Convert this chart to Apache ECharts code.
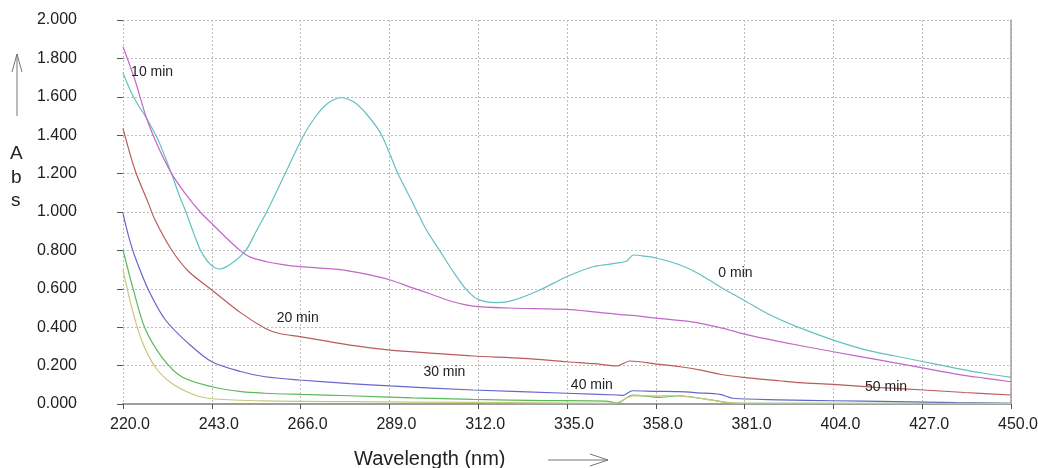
<!DOCTYPE html>
<html>
<head>
<meta charset="utf-8">
<title>Abs spectra</title>
<script src="https://cdn.jsdelivr.net/npm/echarts@6/dist/echarts.min.js"></script>
<style>
  html, body { margin: 0; padding: 0; background: #fff; }
  #chart { width: 1038px; height: 468px; }
</style>
</head>
<body>
<div id="chart"></div>
<script>
// wavelength (nm) / absorbance pairs, one array per time
const min0 = [
  [220, 1.726], [221, 1.675], [222.2, 1.62], [224, 1.555], [226.1, 1.488], [229.1, 1.375],
  [232.6, 1.198], [234.5, 1.09], [236.3, 1.0], [238.3, 0.89], [240.1, 0.80], [242.5, 0.73],
  [245, 0.703], [248, 0.73], [251.8, 0.80], [254.5, 0.90], [257.2, 1.0], [262, 1.2],
  [266.8, 1.4], [270, 1.50], [273, 1.565], [276.5, 1.595], [280, 1.57], [283.5, 1.50],
  [287, 1.40], [291.2, 1.20], [295, 1.05], [298.6, 0.906], [302, 0.80], [305.5, 0.69],
  [309, 0.594], [312, 0.545], [316.8, 0.528], [321, 0.54], [328, 0.594], [334.9, 0.663],
  [341.8, 0.715], [348.7, 0.736], [350.5, 0.745], [352.2, 0.776], [355, 0.77], [358.2, 0.759],
  [364.3, 0.724], [369, 0.68], [374.6, 0.611], [380.7, 0.542], [387, 0.47], [394.5, 0.403],
  [404, 0.333], [412.6, 0.281], [420, 0.25], [426.4, 0.224], [435.9, 0.186], [443, 0.16],
  [450, 0.139]
];
const min10 = [
  [220, 1.861], [223.1, 1.6875], [226.1, 1.488], [229.1, 1.34], [232.6, 1.2], [236, 1.10],
  [240, 1.0], [243, 0.94], [246.5, 0.87], [250.3, 0.80], [253, 0.765], [257.2, 0.741],
  [261, 0.727], [265.8, 0.715], [276.2, 0.70], [282, 0.68], [289.2, 0.646], [295, 0.605],
  [300.4, 0.568], [305, 0.535], [310.7, 0.510], [320, 0.50], [334.9, 0.493], [342, 0.48],
  [349.6, 0.464], [352, 0.462], [358, 0.447], [366.9, 0.429], [375.5, 0.394], [380.7, 0.365],
  [390, 0.325], [404, 0.272], [415, 0.232], [426.4, 0.191], [435.9, 0.156], [443, 0.135],
  [450, 0.116]
];
const min20 = [
  [220, 1.436], [223.1, 1.219], [226.6, 1.045], [228.3, 0.958], [232.6, 0.802], [237, 0.69],
  [243, 0.594], [250.7, 0.472], [256.8, 0.395], [260.5, 0.367], [265.8, 0.351], [272, 0.33],
  [278.8, 0.307], [289.2, 0.281], [300, 0.265], [310.7, 0.25], [323.7, 0.238], [334.9, 0.220],
  [342, 0.21], [347.9, 0.198], [351.3, 0.224], [358.2, 0.208], [364.3, 0.194], [370, 0.175],
  [374.6, 0.155], [380.7, 0.139], [390, 0.121], [395.3, 0.111], [404, 0.102], [415, 0.087],
  [427.4, 0.073], [438, 0.06], [450, 0.047]
];
const min30 = [
  [220, 0.993], [221.5, 0.87], [223.1, 0.767], [226.6, 0.594], [231, 0.4375], [236.9, 0.316],
  [243, 0.220], [250.7, 0.168], [256.8, 0.142], [265.8, 0.125], [278.8, 0.106], [289.2, 0.094],
  [310.7, 0.073], [334.9, 0.056], [347.9, 0.047], [349.5, 0.045], [352, 0.069], [358, 0.066],
  [364, 0.064], [369, 0.058], [374.6, 0.05], [378, 0.03], [390, 0.022], [404, 0.017],
  [420, 0.012], [435.9, 0.007], [450, 0.004]
];
const min40 = [
  [220, 0.802], [222.7, 0.594], [225.7, 0.394], [230, 0.246], [235.2, 0.142], [243, 0.090],
  [250.7, 0.064], [256.8, 0.056], [266, 0.05], [278.8, 0.043], [295, 0.032], [310.7, 0.024],
  [330, 0.018], [345, 0.015], [348, 0.004], [352, 0.047], [359, 0.035], [364.3, 0.043],
  [369.4, 0.030], [372, 0.022], [376, 0.009], [380, 0.004], [450, 0.003]
];
const min50 = [
  [220, 0.698], [222.2, 0.507], [224.8, 0.333], [228.3, 0.194], [232.6, 0.108], [238.6, 0.047],
  [243.8, 0.026], [256.8, 0.016], [280, 0.012], [310, 0.008], [347.5, 0.004], [352, 0.042],
  [358, 0.042], [362.5, 0.043], [366, 0.038], [370, 0.028], [375, 0.012], [380, 0.004],
  [450, 0.002]
];

const seriesNames = ['0 min', '10 min', '20 min', '30 min', '40 min', '50 min'];
const seriesColors = ['#63c0c0', '#c068c8', '#b85c5c', '#6666cc', '#5cb85c', '#c8c87a'];
// where each curve's time label sits (left edge, middle), in data units
const labelAt = [[374.2, 0.684], [222.1, 1.731], [259.8, 0.446], [297.8, 0.168], [336, 0.099], [412.2, 0.090]];

const allData = [min0, min10, min20, min30, min40, min50];
const font = 'Arial, "Liberation Sans", sans-serif';
const gridLine = { show: true, lineStyle: { color: '#bcbcbc', type: [2, 2], width: 1 } };

const chart = echarts.init(document.getElementById('chart'));
const option = {
  animation: false,
  backgroundColor: '#fff',
  grid: { left: 123, top: 20, right: 27, bottom: 64, outerBoundsMode: 'none' },
  xAxis: [
    {
      type: 'value', min: 220, max: 450, interval: 23,
      axisLine: { show: true, lineStyle: { color: '#9a9a9a', width: 2 } },
      axisTick: { show: true, length: 5, lineStyle: { color: '#555' } },
      axisLabel: { color: '#222', fontSize: 16, fontFamily: font, margin: 13,
        padding: [0, 0, 0, 14], formatter: v => v.toFixed(1) },
      splitLine: gridLine
    },
    {
      type: 'value', min: 220, max: 450, position: 'top',
      axisLine: { show: true, lineStyle: { color: '#a0a0a0', width: 1.5 } },
      axisTick: { show: false }, axisLabel: { show: false }, splitLine: { show: false }
    }
  ],
  yAxis: [
    {
      type: 'value', min: 0, max: 2, interval: 0.2,
      axisLine: { show: false },
      axisTick: { show: true, length: 6, lineStyle: { color: '#555' } },
      axisLabel: { color: '#222', fontSize: 16, fontFamily: font, margin: 46,
        align: 'right', padding: [8, 0, 0, 0], formatter: v => v.toFixed(3) },
      splitLine: gridLine
    },
    {
      type: 'value', min: 0, max: 2, position: 'right',
      axisLine: { show: true, lineStyle: { color: '#a0a0a0', width: 1.5 } },
      axisTick: { show: false }, axisLabel: { show: false }, splitLine: { show: false }
    }
  ],
  series: allData.map((d, i) => ({
    name: seriesNames[i],
    type: 'line',
    data: d,
    showSymbol: false,
    smooth: 0.3,
    lineStyle: { color: seriesColors[i], width: 1.2 },
    markPoint: {
      symbol: 'circle',
      symbolSize: 0,
      label: {
        show: true, position: 'right', distance: 0,
        color: '#222', fontSize: 14, fontFamily: font,
        formatter: seriesNames[i]
      },
      data: [{ coord: labelAt[i] }]
    }
  })),
  graphic: [
    { type: 'text', left: 10, top: 144, style: { text: 'A', fontSize: 19, fontFamily: font, fill: '#222' } },
    { type: 'text', left: 11, top: 168, style: { text: 'b', fontSize: 19, fontFamily: font, fill: '#222' } },
    { type: 'text', left: 11, top: 191, style: { text: 's', fontSize: 19, fontFamily: font, fill: '#222' } },
    // up arrow beside the Abs label
    { type: 'polyline', shape: { points: [[17, 116], [17, 54]] }, style: { stroke: '#777', lineWidth: 1 } },
    { type: 'polyline', shape: { points: [[12, 72], [17, 54], [22, 72]] }, style: { stroke: '#777', lineWidth: 1, fill: null } },
    { type: 'text', left: 354, top: 449, style: { text: 'Wavelength (nm)', fontSize: 20, fontFamily: font, fill: '#222' } },
    // right arrow after the axis title
    { type: 'polyline', shape: { points: [[548, 460], [608, 460]] }, style: { stroke: '#777', lineWidth: 1 } },
    { type: 'polyline', shape: { points: [[590, 454], [608, 460], [590, 466]] }, style: { stroke: '#777', lineWidth: 1, fill: null } }
  ]
};
chart.setOption(option);
</script>
</body>
</html>
